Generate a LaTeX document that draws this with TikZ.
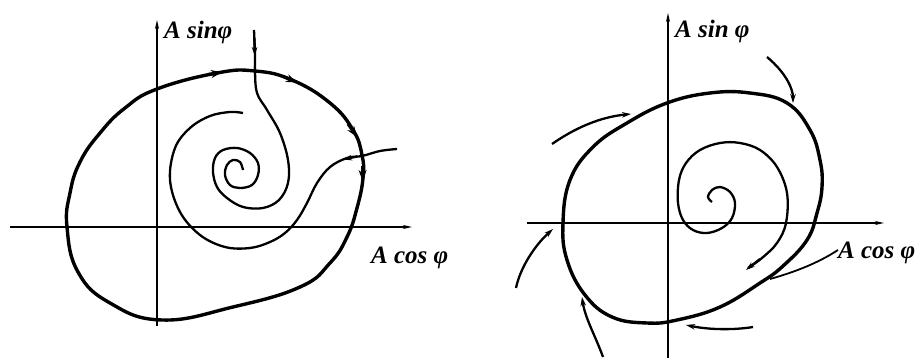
\documentclass[tikz,border=0pt]{standalone}
\usepackage{fontspec}
\newfontfamily\lblfont{Liberation Serif}
\usetikzlibrary{arrows.meta}
\begin{document}
\begin{tikzpicture}[x=1pt,y=-1pt,
  axis/.style={line width=1.5pt,-{Stealth[length=9pt,width=4pt]}},
  cyc/.style={line width=3.4pt},
  traj/.style={line width=2.3pt},
  tipc/.style={-{Stealth[length=11pt,width=8pt]},line width=3pt},
  tipt/.style={-{Stealth[length=9pt,width=5.5pt]},line width=2.3pt},
  lbl/.style={font=\lblfont\fontsize{25}{27}\selectfont\bfseries\itshape, inner sep=0pt, anchor=base west}]
\useasboundingbox (0,0) rectangle (920,358);

% ---------------- left diagram ----------------
\coordinate (oL) at (157,227);
\draw[axis] (157,326) -- (157,20);
\draw[axis] (10,227) -- (412,227);
\node[lbl] (sinL) at (164,39) {A sinφ};
\node[lbl] (cosL) at (371,263) {A cos φ};

% limit cycle
\draw[cyc] plot[smooth cycle, tension=0.75] coordinates {
 (67,227) (70,193) (80,162) (100,133) (125,108) (157,89) (217,73) (255,71)
 (292,80) (330,103) (353,130) (362,155) (363,178) (357,208) (347,237)
 (330,263) (300,287) (233,307) (162,320) (110,303) (78,272)};
% arrows on cycle
\draw[tipc] (208,74.5) -- (222,72.3);
\draw[tipc] (283,76.5) -- (297,82.5);
\draw[tipc] (348,124) -- (357,137);
\draw[tipc] (362.5,166) -- (362.7,181);

% trajectory from top into the spiral
\draw[traj] plot[smooth, tension=0.6] coordinates {
 (254,30) (255,55) (255,72) (257,93) (267,110) (280,133) (288,160) (288,183)
 (279,200) (263,208) (243,207) (227,198) (217,187) (213,172) (215,158)
 (223,150) (237,148) (250,153) (258,163) (258,175) (252,185) (240,188)
 (230,185) (225,175) (227,165) (233,160) (240,162) (243,170)};
\draw[tipt] (254.3,38) -- (254.8,56);

% trajectory from right into the spiral
\draw[traj] plot[smooth, tension=0.6] coordinates {
 (397,149) (380,151) (362,156) (347,158) (330,167) (317,183) (307,203)
 (297,220) (285,233) (270,242) (250,248) (225,247) (200,235) (180,212)
 (170,180) (175,148) (190,128) (210,116) (230,112) (243,113)};
\draw[tipt] (357,156.5) -- (343,159.5);

% ---------------- right diagram ----------------
\coordinate (oR) at (668,223);
\draw[axis] (668,358) -- (668,13);
\draw[axis] (527,223) -- (884,223);
\node[lbl] (sinR) at (675,38) {A sin φ};
\node[lbl] (cosR) at (838,258) {A cos φ};

% limit cycle
\draw[cyc] plot[smooth cycle, tension=0.7] coordinates {
 (563,223) (570,180) (593,147) (627,123) (667,103) (710,93) (750,93)
 (787,103) (810,130) (820,160) (822,187) (817,213) (807,240) (783,266)
 (760,283) (720,307) (677,320) (647,323) (612,317) (585,295) (567,260)};

% spiral from the centre outwards
\draw[traj] plot[smooth, tension=0.6] coordinates {
 (712,202) (708,197) (712,190) (720,187) (730,192) (735,203) (732,218)
 (722,228) (707,233) (693,230) (683,220) (678,203) (679,180) (686,163)
 (700,150) (720,143) (740,143) (760,150) (777,167) (787,193) (786,223)
 (777,243) (762,258) (748,268)};
\draw[tipt] (760,259) -- (746,270);

% leader of the label
\draw[line width=1.8pt] (838,250) .. controls (818,263) and (795,272) .. (770,279);

% arrows outside the cycle
\draw[tipt] (767,57) .. controls (785,72) and (793,88) .. (793,103);
\draw[tipt] (552,144) .. controls (575,128) and (600,117) .. (631,114);
\draw[tipt] (516,288) .. controls (520,268) and (535,245) .. (553,229);
\draw[tipt] (603,357) .. controls (595,335) and (585,318) .. (582,297);
\draw[tipt] (753,327) .. controls (735,330) and (710,330) .. (686,325);
\end{tikzpicture}
\end{document}
